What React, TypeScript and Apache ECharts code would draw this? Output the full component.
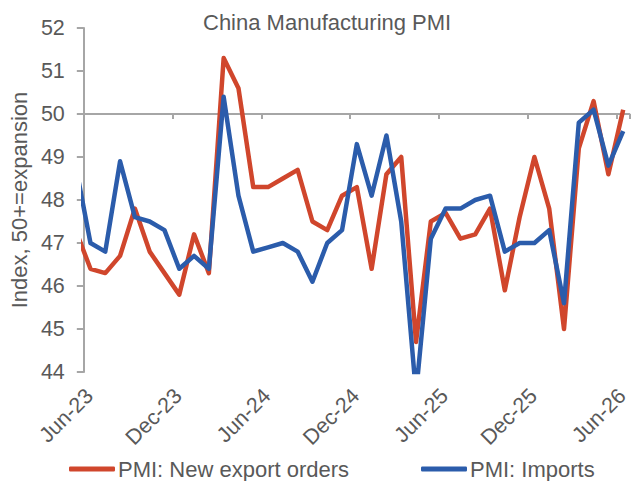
import React, { useEffect, useRef } from "react";
import * as echarts from "echarts";

// Monthly readings, NBS manufacturing PMI sub-indices
const MONTHS = [
  "May-23", "Jun-23", "Jul-23", "Aug-23", "Sep-23", "Oct-23", "Nov-23", "Dec-23",
  "Jan-24", "Feb-24", "Mar-24", "Apr-24", "May-24", "Jun-24", "Jul-24", "Aug-24",
  "Sep-24", "Oct-24", "Nov-24", "Dec-24", "Jan-25", "Feb-25", "Mar-25", "Apr-25",
  "May-25", "Jun-25", "Jul-25", "Aug-25", "Sep-25", "Oct-25", "Nov-25", "Dec-25",
  "Jan-26", "Feb-26", "Mar-26", "Apr-26", "May-26", "Jun-26",
];

const NEW_EXPORT_ORDERS = [
  47.3, 46.4, 46.3, 46.7, 47.8, 46.8, 46.3, 45.8,
  47.2, 46.3, 51.3, 50.6, 48.3, 48.3, 48.5, 48.7,
  47.5, 47.3, 48.1, 48.3, 46.4, 48.6, 49.0, 44.7,
  47.5, 47.7, 47.1, 47.2, 47.8, 45.9, 47.6, 49.0,
  47.8, 45.0, 49.2, 50.3, 48.6, 50.1,
];

const IMPORTS = [
  48.8, 47.0, 46.8, 48.9, 47.6, 47.5, 47.3, 46.4,
  46.7, 46.4, 50.4, 48.1, 46.8, 46.9, 47.0, 46.8,
  46.1, 47.0, 47.3, 49.3, 48.1, 49.5, 47.5, 43.5,
  47.1, 47.8, 47.8, 48.0, 48.1, 46.8, 47.0, 47.0,
  47.3, 45.6, 49.8, 50.1, 48.8, 49.6,
];

const TICK_LABELS = ["Jun-23", "Dec-23", "Jun-24", "Dec-24", "Jun-25", "Dec-25", "Jun-26"];

const SERIES_NAMES = ["PMI: New export orders", "PMI: Imports"];

// Axis runs in months from the start of Jun-23; readings sit mid-month.
const FIRST_TICK_MONTH = "Jun-23";
const MID_MONTH = 0.45;
const X_MAX = 36.87;

const TEXT = "#595959";
const AXIS = "#A6A6A6";
const RED = "#D0462C";
const BLUE = "#2B5CAB";
const FONT = "'Liberation Sans', Arial, sans-serif";
const FS = 22;

const GRID = { left: 80, top: 28, right: 0, height: 344 };

function toPoints(values: number[]) {
  const start = MONTHS.indexOf(FIRST_TICK_MONTH);
  return values.map((v, i) => [i - start + MID_MONTH, v]);
}

export default function App() {
  const ref = useRef<HTMLDivElement>(null);

  useEffect(() => {
    if (!ref.current) return;
    const chart = echarts.init(ref.current, null, { renderer: "svg" });

    const yMin = 44;
    const yMax = 52;
    const crossAt = 50;
    const crossOffset = -((yMax - crossAt) / (yMax - yMin)) * GRID.height;

    const xBase = {
      type: "value" as const,
      min: 0,
      max: X_MAX,
      interval: 6,
      splitLine: { show: false },
    };

    const legendBase = {
      top: 458,
      padding: 0,
      icon: "roundRect",
      itemWidth: 46,
      itemHeight: 5,
      textStyle: { fontFamily: FONT, fontSize: FS, color: TEXT, padding: [0, 0, 0, -2] },
    };

    chart.setOption({
      animation: false,
      textStyle: { fontFamily: FONT },
      title: {
        text: "China Manufacturing PMI",
        left: 198,
        top: 6,
        textStyle: { fontFamily: FONT, fontSize: FS, fontWeight: "normal", color: TEXT },
      },
      legend: [
        { ...legendBase, data: [SERIES_NAMES[0]], left: 69 },
        { ...legendBase, data: [SERIES_NAMES[1]], left: 421 },
      ],
      grid: { ...GRID },
      xAxis: [
        {
          ...xBase,
          position: "bottom",
          axisLine: { show: false },
          axisTick: { show: false },
          axisLabel: {
            rotate: 45,
            margin: 26,
            padding: [0, -8, 0, 0],
            fontFamily: FONT,
            fontSize: 21.5,
            color: TEXT,
            formatter: (v: number) => {
              const k = Math.round(v / 6);
              return Math.abs(v - k * 6) < 1e-6 ? TICK_LABELS[k] ?? "" : "";
            },
          },
        },
        {
          ...xBase,
          position: "top",
          offset: crossOffset,
          axisLine: { show: true, lineStyle: { color: AXIS, width: 2 } },
          axisTick: { show: true, inside: true, length: 5, lineStyle: { color: AXIS, width: 2 } },
          axisLabel: { show: false },
        },
      ],
      yAxis: {
        type: "value",
        min: yMin,
        max: yMax,
        interval: 1,
        name: "Index, 50+=expansion",
        nameLocation: "middle",
        nameGap: 52,
        nameTextStyle: { fontFamily: FONT, fontSize: FS, color: TEXT },
        splitLine: { show: false },
        axisLine: { show: true, lineStyle: { color: AXIS, width: 2 } },
        axisTick: { show: true, length: 7, lineStyle: { color: AXIS, width: 2 } },
        axisLabel: { margin: 19, fontFamily: FONT, fontSize: 21.5, color: TEXT },
      },
      series: [
        {
          name: SERIES_NAMES[0],
          type: "line",
          xAxisIndex: 0,
          data: toPoints(NEW_EXPORT_ORDERS),
          symbol: "none",
          clip: true,
          color: RED,
          lineStyle: { color: RED, width: 4.5, join: "round" },
          z: 2,
        },
        {
          name: SERIES_NAMES[1],
          type: "line",
          xAxisIndex: 0,
          data: toPoints(IMPORTS),
          symbol: "none",
          clip: true,
          color: BLUE,
          lineStyle: { color: BLUE, width: 4.5, join: "round" },
          z: 3,
        },
      ],
    });

    return () => chart.dispose();
  }, []);

  return (
    <div
      ref={ref}
      style={{ position: "fixed", left: 0, top: 0, width: 632, height: 481, background: "#fff" }}
    />
  );
}
